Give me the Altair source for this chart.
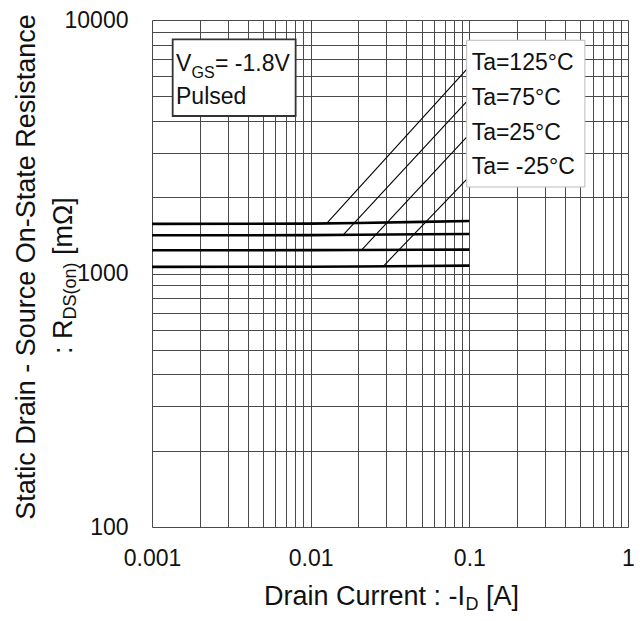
import altair as alt
import pandas as pd

# ---- data ----
drain_current = [0.001, 0.01, 0.02, 0.05, 0.1]
r_125 = [1570, 1573, 1582, 1598, 1611]
r_75 = [1415, 1417, 1421, 1428, 1432]
r_25 = [1235, 1236, 1238, 1240, 1242]
r_m25 = [1062, 1063, 1066, 1071, 1074]
series_names = ["Ta=125°C", "Ta=75°C", "Ta=25°C", "Ta= -25°C"]

# leader lines: start on curve, end at label box
leader_x1 = [0.01262, 0.01604, 0.02097, 0.02868]
leader_y1 = [1578, 1420, 1238, 1068]
leader_x2 = [0.0962, 0.0962, 0.0962, 0.0962]
leader_y2 = [6391, 4761, 3455, 2352]

label_x = [0.1034, 0.1034, 0.1034, 0.1034]
label_y = [6322, 4620, 3362, 2458]

x_ticks = [k * 10.0 ** e for e in (-3, -2, -1) for k in range(1, 10)] + [1.0]
y_ticks = [k * 10.0 ** e for e in (2, 3) for k in range(1, 10)] + [10000.0]

FONT = "Liberation Sans"

rows = []
for name, vals in zip(series_names, [r_125, r_75, r_25, r_m25]):
    for xv, yv in zip(drain_current, vals):
        rows.append({"Id": xv, "R": yv, "series": name})
curves = pd.DataFrame(rows)

xs = alt.Scale(type="log", domain=[0.001, 1], nice=False)
ys = alt.Scale(type="log", domain=[100, 10000], nice=False)

decade_expr = "abs(round(log(datum.value)/LN10) - log(datum.value)/LN10) < 0.001 ? datum.label : ''"

x_axis = alt.Axis(values=x_ticks, format="~g", labelExpr=decade_expr, grid=True,
                  gridColor="#4a4a4a", gridWidth=1, gridOpacity=1, ticks=False,
                  domain=False, labelOverlap=False, labelFlush=False,
                  labelPadding=20, title=None, labelFontSize=23, labelFont=FONT,
                  labelColor="#111")
y_axis = alt.Axis(values=y_ticks, format="~g", labelExpr=decade_expr, grid=True,
                  gridColor="#4a4a4a", gridWidth=1, gridOpacity=1, ticks=False,
                  domain=False, labelOverlap=False, labelFlush=False,
                  labelPadding=24, title=None, labelFontSize=23, labelFont=FONT,
                  labelColor="#111")

lines = alt.Chart(curves).mark_line(color="black", strokeWidth=2.6).encode(
    x=alt.X("Id:Q", scale=xs, axis=x_axis),
    y=alt.Y("R:Q", scale=ys, axis=y_axis),
    detail="series:N",
)

leaders = alt.Chart(pd.DataFrame({"x1": leader_x1, "y1": leader_y1,
                                  "x2": leader_x2, "y2": leader_y2})).mark_rule(
    color="black", strokeWidth=1.1).encode(
    x=alt.X("x1:Q", scale=xs), y=alt.Y("y1:Q", scale=ys),
    x2="x2:Q", y2="y2:Q")

ta_box = alt.Chart(pd.DataFrame({"a": [0.0962], "b": [0.535], "c": [2194], "d": [8318]})).mark_rect(
    fill="white", stroke="#bbbbbb", strokeWidth=1).encode(
    x=alt.X("a:Q", scale=xs), x2="b:Q", y=alt.Y("c:Q", scale=ys), y2="d:Q")

vgs_box = alt.Chart(pd.DataFrame({"a": [0.00135], "b": [0.00804], "c": [4181], "d": [8393]})).mark_rect(
    fill="white", stroke="#333333", strokeWidth=1.8).encode(
    x=alt.X("a:Q", scale=xs), x2="b:Q", y=alt.Y("c:Q", scale=ys), y2="d:Q")

ta_labels = alt.Chart(pd.DataFrame({"t": series_names, "x": label_x, "y": label_y})).mark_text(
    font=FONT, fontSize=23, align="left", baseline="alphabetic", color="#111").encode(
    x=alt.X("x:Q", scale=xs), y=alt.Y("y:Q", scale=ys), text="t:N")


def txt(s, x, y, size, angle=0, align="left"):
    return alt.Chart(pd.DataFrame({"t": [s]})).mark_text(
        font=FONT, fontSize=size, align=align, baseline="alphabetic",
        angle=angle, color="#111").encode(
        x=alt.value(x), y=alt.value(y), text="t:N")


texts = [
    # VGS box
    txt("V", 24, 51, 23),
    txt("GS", 39.5, 58, 16),
    txt("= -1.8V", 63, 51, 23),
    txt("Pulsed", 24, 83.7, 23),
    # x title
    txt("Drain Current : -I", 112, 585, 27),
    txt("D", 313.5, 590, 18),
    txt("[A]", 334, 585, 27),
    # y title line 1
    txt("Static Drain - Source On-State Resistance", -117, 247, 27, angle=270, align="center"),
    # y title line 2
    txt(": R", -80, 334, 27, angle=270),
    txt("DS(on)", -76, 299.5, 18, angle=270),
    txt("[mΩ]", -80, 235, 27, angle=270),
]

chart = alt.layer(lines, leaders, ta_box, vgs_box, ta_labels, *texts).properties(
    width=476, height=507,
    padding={"left": 144, "top": 12, "right": 7, "bottom": 86},
    autosize=alt.AutoSizeParams(type="none"),
).configure_view(stroke="#8a8a8a", strokeWidth=1.2).configure(background="white")

chart.save("out.html", embed_options={"renderer": "svg", "actions": False})
